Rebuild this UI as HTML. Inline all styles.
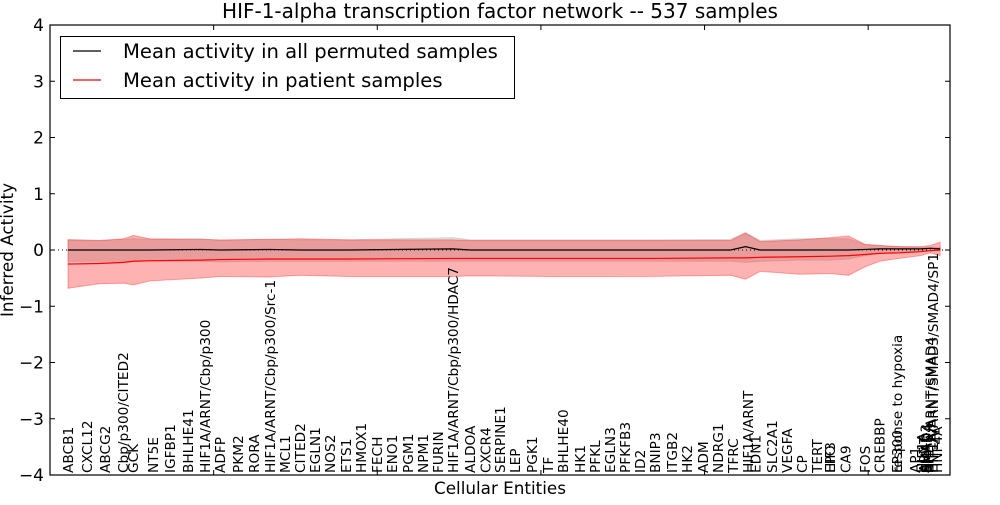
<!DOCTYPE html>
<html><head><meta charset="utf-8"><style>
body{margin:0;background:#fff;}
svg text{font-family:"DejaVu Sans","Liberation Sans",sans-serif;}
</style></head><body>
<svg id="chart" width="1000" height="500" viewBox="0 0 1000 500" xmlns="http://www.w3.org/2000/svg">
<rect x="0" y="0" width="1000" height="500" fill="#fff"/>
<text x="500" y="18" font-size="20" text-anchor="middle">HIF-1-alpha transcription factor network -- 537 samples</text>
<g id="plot"></g>
<text x="500" y="494" font-size="16.8" text-anchor="middle">Cellular Entities</text>
<text x="0" y="0" font-size="16.8" text-anchor="middle" transform="translate(13,250) rotate(-90)">Inferred Activity</text>
<g>
<rect x="60.5" y="36.5" width="454" height="62" fill="#fff" stroke="#000" stroke-width="1"/>
<line x1="73" y1="51" x2="101" y2="51" stroke="#000" stroke-width="1.2"/>
<text x="123" y="58" font-size="19.6">Mean activity in all permuted samples</text>
<line x1="73" y1="80" x2="101" y2="80" stroke="#f00" stroke-width="1.2"/>
<text x="123" y="87" font-size="19.6">Mean activity in patient samples</text>
</g>
</svg>
<script>
const xs      = [11,30,45,51,61,92,104,134,153,183,246,257,306,367,416,425,434,458,477,488,498,507,519,532,538,544];
const permMean= [0,0,0,0,0,0.01,0,0.01,0,0,0.02,0,0,0,0,0.06,0,0,0,0,0.01,0.02,0.02,0.02,0.03,0.02];
const permLo  = [-0.2,-0.2,-0.2,-0.2,-0.2,-0.2,-0.21,-0.2,-0.2,-0.2,-0.2,-0.2,-0.2,-0.2,-0.2,-0.22,-0.2,-0.18,-0.18,-0.16,-0.1,-0.06,-0.04,-0.02,-0.02,0];
const permHi  = [0.19,0.17,0.19,0.2,0.19,0.2,0.17,0.19,0.18,0.18,0.22,0.18,0.18,0.18,0.19,0.31,0.17,0.2,0.2,0.2,0.1,0.08,0.06,0.05,0.05,0.05];
const patMean = [-0.25,-0.24,-0.22,-0.2,-0.19,-0.18,-0.17,-0.16,-0.16,-0.16,-0.15,-0.15,-0.15,-0.15,-0.14,-0.14,-0.13,-0.12,-0.11,-0.1,-0.08,-0.06,-0.05,-0.03,-0.01,0];
const patLo   = [-0.68,-0.6,-0.59,-0.62,-0.55,-0.5,-0.47,-0.48,-0.45,-0.47,-0.47,-0.46,-0.47,-0.47,-0.45,-0.52,-0.38,-0.43,-0.42,-0.45,-0.3,-0.2,-0.15,-0.1,-0.05,-0.1];
const patHi   = [0.18,0.17,0.2,0.26,0.2,0.19,0.18,0.19,0.2,0.18,0.18,0.17,0.17,0.17,0.17,0.3,0.15,0.18,0.22,0.25,0.1,0.08,0.06,0.06,0.08,0.14];
const entityNames = ["ABCB1","CXCL12","ABCG2","Cbp/p300/CITED2","GCK","NT5E","IGFBP1","BHLHE41","HIF1A/ARNT/Cbp/p300","ADFP","PKM2","RORA","HIF1A/ARNT/Cbp/p300/Src-1","MCL1","CITED2","EGLN1","NOS2","ETS1","HMOX1","FECH","ENO1","PGM1","NPM1","FURIN","HIF1A/ARNT/Cbp/p300/HDAC7","ALDOA","CXCR4","SERPINE1","LEP","PGK1","TF","BHLHE40","HK1","PFKL","EGLN3","PFKFB3","ID2","BNIP3","ITGB2","HK2","ADM","NDRG1","TFRC","HIF1A/ARNT","EDN1","SLC2A1","VEGFA","CP","TERT","EPO","HIF3","CA9","FOS","CREBBP","response to hypoxia","EP300","AP1","HIF1A","ARNT","SMAD3","SMAD4","SP1","HIF1A/ARNT/SMAD4","HIF1A/ARNT/SMAD3/SMAD4/SP1","HNF4A"];
const entityPos = [11,22.6,33.6,44.6,50.7,63,73.3,84.3,94.7,103.9,114.9,124.7,134.5,143.6,152.8,162,171,181,190,199.8,209,218.8,228,237,246.3,256.7,266,275,284.2,294.6,304.4,313.6,324,333,342.3,351.5,360.6,369.8,380,389.4,399,408.3,417.5,426.7,431,441.3,450.5,459.7,468.8,476.8,476.8,486,498,507,517.7,517.7,528.7,533,534,535,536,537,538,539.5,542];
const yTicks = [4,3,2,1,0,-1,-2,-3,-4];
const yTickLabels = ["4","3","2","1","0","\u22121","\u22122","\u22123","\u22124"];
const xTicks = [100,200,300,400,500];

const L=50,R=950,T=25,B=475, XMIN=0,XMAX=550,YMIN=-4,YMAX=4;
const sx=v=>L+(v-XMIN)/(XMAX-XMIN)*(R-L);
const sy=v=>B-(v-YMIN)/(YMAX-YMIN)*(B-T);
const NS="http://www.w3.org/2000/svg";
const plot=document.getElementById('plot');
function mk(tag,attrs,parent){const e=document.createElementNS(NS,tag);for(const k in attrs)e.setAttribute(k,attrs[k]);(parent||plot).appendChild(e);return e;}
function band(lo,hi){let d='M'+xs.map((x,i)=>sx(x)+','+sy(hi[i])).join(' L');d+=' L'+xs.map((x,i)=>[sx(x),sy(lo[i])]).reverse().map(p=>p.join(',')).join(' L')+' Z';return d;}
function line(v){return 'M'+xs.map((x,i)=>sx(x)+','+sy(v[i])).join(' L');}

const pb=mk('path',{d:band(permLo,permHi),fill:'#bbb','fill-opacity':0.45,stroke:'#bbb','stroke-opacity':0.5});


const rb=mk('path',{d:band(patLo,patHi),fill:'#f00','fill-opacity':0.3,stroke:'#f00','stroke-opacity':0.3});


const zl=mk('line',{x1:L,x2:R,y1:sy(0),y2:sy(0),stroke:'#000','stroke-width':1,'stroke-dasharray':'1,3'});


const pl=mk('path',{d:line(permMean),fill:'none',stroke:'#000','stroke-width':1.2});


const rl=mk('path',{d:line(patMean),fill:'none',stroke:'#f00','stroke-width':1.2});



entityNames.forEach((n,i)=>{
  const x=sx(entityPos[i]);
  const t=mk('text',{x:0,y:0,'font-size':13.7,transform:`translate(${x+5},473) rotate(-90)`});
  t.textContent=n;
  
  
});

yTicks.forEach((v,i)=>{
  const y=sy(v);
  const a=mk('line',{x1:L,x2:L+5,y1:y,y2:y,stroke:'#000'});
  
  
  const b=mk('line',{x1:R-5,x2:R,y1:y,y2:y,stroke:'#000'});
  
  
  const t=mk('text',{x:L-6,y:y+6,'font-size':17,'text-anchor':'end'});
  t.textContent=yTickLabels[i];
  
  
});
xTicks.forEach(v=>{
  const x=sx(v);
  const a=mk('line',{x1:x,x2:x,y1:T,y2:T+5,stroke:'#000'});
  
  
  const b=mk('line',{x1:x,x2:x,y1:B-5,y2:B,stroke:'#000'});
  
  
});
const fr=mk('rect',{x:L,y:T,width:R-L,height:B-T,fill:'none',stroke:'#000','stroke-width':1.2});


</script>
</body></html>
